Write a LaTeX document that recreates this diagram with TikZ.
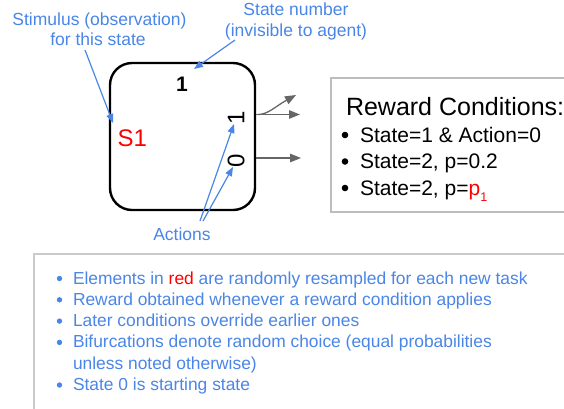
\documentclass[tikz,border=0pt]{standalone}
\usepackage{fontspec}
\setmainfont{Liberation Sans}
\usetikzlibrary{arrows.meta}
\definecolor{noteblue}{HTML}{4A86E8}
\definecolor{arrowgray}{HTML}{666666}
\definecolor{framegray}{HTML}{BDBDBD}
\definecolor{alertred}{HTML}{FF0000}

\begin{document}
\begin{tikzpicture}[x=1pt,y=-1pt,
  every node/.style={inner sep=0pt, outer sep=0pt},
  note/.style={text=noteblue, font=\fontsize{17.5}{21}\selectfont},
  condtext/.style={font=\fontsize{21}{25}\selectfont},
  listtext/.style={text=noteblue, font=\fontsize{17.4}{21}\selectfont},
  digit/.style={font=\fontsize{24}{28}\selectfont},
  conddot/.style={circle, fill=black, minimum size=6.6pt},
  listdot/.style={circle, fill=noteblue, minimum size=5.4pt},
  pointer/.style={draw=noteblue, line width=1.2pt, -{Triangle[length=9pt,width=7pt]}},
  transition/.style={draw=arrowgray, line width=1.3pt, -{Triangle[length=11pt,width=8.5pt]}},
  statebox/.style={draw=black, line width=2.4pt, rounded corners=22pt,
    minimum width=145pt, minimum height=147pt},
  framebox/.style={draw=framegray, line width=1.2pt, anchor=north west}
]
\useasboundingbox (0,0) rectangle (564,408);
\fill[white] (0,0) rectangle (564,408);

% state box with its labels
\node[statebox] (state) at (182.5,136.5) {};
\node[anchor=base, font=\bfseries\fontsize{21}{25}\selectfont] (statenum) at (182,91) {1};
\node[anchor=base west, text=alertred, font=\fontsize{24}{28}\selectfont] (stim) at (117.5,146) {S1};
\node[digit, rotate=90] (act1) at (236,118) {1};
\node[digit, rotate=90] (act0) at (236,161) {0};

% transitions leaving the state
\coordinate (out1) at (256,114.5);
\coordinate (out1b) at (258,114.5);
\coordinate (out0) at (256,158);
\coordinate (to1) at (300,114.5);
\coordinate (to1b) at (296,95);
\coordinate (to0) at (301,158);
\draw[transition] (out1) -- (to1);
\draw[transition] (out1b) .. controls (268,114.5) and (276,106) .. (to1b);
\draw[transition] (out0) -- (to0);

% reward conditions
\node[framebox, minimum width=260pt, minimum height=134pt] (rbox) at (331,78) {};
\node[anchor=base west, font=\fontsize{25}{30}\selectfont] (rtitle) at (346,115) {Reward Conditions:};
\node[conddot] (rb1) at (345,135) {};
\node[anchor=base west, condtext] (r1) at (360,142) {State=1 \& Action=0};
\node[conddot] (rb2) at (345,161.5) {};
\node[anchor=base west, condtext] (r2) at (360,168.5) {State=2, p=0.2};
\node[conddot] (rb3) at (345,188) {};
\node[anchor=base west, condtext] (r3) at (360,195)
  {State=2, p={\color{alertred}p\raisebox{-6.5pt}{\fontsize{12.5}{14}\selectfont 1}}};

% annotations
\node[note, anchor=base] (stimA) at (99.5,25) {Stimulus (observation)};
\node[note, anchor=base] (stimB) at (98,45) {for this state};
\node[note, anchor=base] (numA) at (296,15.5) {State number};
\node[note, anchor=base] (numB) at (296,36) {(invisible to agent)};
\node[note, anchor=base] (actions) at (182,240) {Actions};

\coordinate (stimtail) at (85,50);
\coordinate (stimtip) at (113,123);
\coordinate (numtail) at (235,40);
\coordinate (numtip) at (194,69);
\coordinate (acttailA) at (200,221);
\coordinate (acttailB) at (203,221);
\coordinate (act1tip) at (234,124);
\coordinate (act0tip) at (233,167);
\draw[pointer] (stimtail) -- (stimtip);
\draw[pointer] (numtail) -- (numtip);
\draw[pointer] (acttailA) -- (act1tip);
\draw[pointer] (acttailB) -- (act0tip);

% notes panel
\node[framebox, draw=framegray!80, minimum width=560pt, minimum height=200pt] (notes) at (34,254) {};
\node[listdot] (nb1) at (59.5,278.5) {};
\node[listtext, anchor=base west] (n1) at (73,284) {Elements in {\color{alertred}red} are randomly resampled for each new task};
\node[listdot] (nb2) at (59.5,299.8) {};
\node[listtext, anchor=base west] (n2) at (73,305.3) {Reward obtained whenever a reward condition applies};
\node[listdot] (nb3) at (59.5,321.1) {};
\node[listtext, anchor=base west] (n3) at (73,326.6) {Later conditions override earlier ones};
\node[listdot] (nb4) at (59.5,342.4) {};
\node[listtext, anchor=base west] (n4) at (73,347.9) {Bifurcations denote random choice (equal probabilities};
\node[listtext, anchor=base west] (n4b) at (73,369.2) {unless noted otherwise)};
\node[listdot] (nb5) at (59.5,385) {};
\node[listtext, anchor=base west] (n5) at (73,390.5) {State 0 is starting state};
\end{tikzpicture}
\end{document}
